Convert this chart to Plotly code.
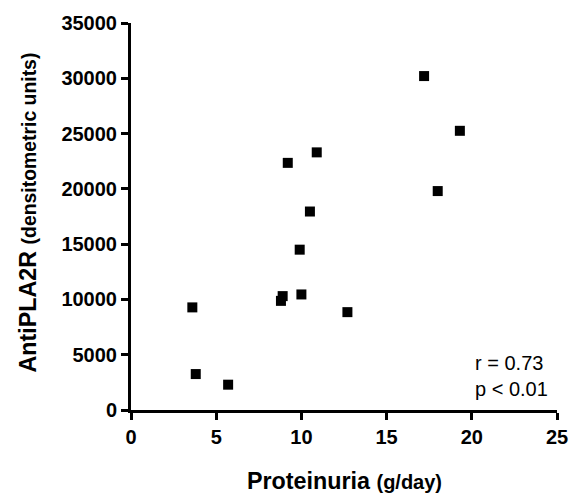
import plotly.graph_objects as go

proteinuria = [3.6, 3.8, 5.7, 8.8, 8.9, 10.0, 9.9, 10.5, 9.2, 10.9, 17.2, 19.3, 18.0, 12.7]
antipla2r = [9280, 3250, 2290, 9870, 10300, 10450, 14500, 17950, 22350, 23300, 30200, 25250, 19800, 8850]
x_ticks = [0, 5, 10, 15, 20, 25]
y_ticks = [0, 5000, 10000, 15000, 20000, 25000, 30000, 35000]

FONT = "Arial, Liberation Sans, Helvetica, sans-serif"

fig = go.Figure()
fig.add_trace(go.Scatter(
    x=proteinuria, y=antipla2r, mode="markers",
    marker=dict(symbol="square", size=10, color="black", line=dict(width=0)),
    showlegend=False, cliponaxis=False,
))

axis_common = dict(
    showline=True, linecolor="black", linewidth=3,
    ticks="outside", ticklen=7, tickwidth=3, tickcolor="black",
    showgrid=False, zeroline=False,
    tickfont=dict(family=FONT, size=20, color="black", weight="bold"),
)

fig.update_layout(
    width=580, height=495,
    margin=dict(l=131, r=17, t=21, b=85),
    paper_bgcolor="white", plot_bgcolor="white",
    xaxis=dict(range=[0, 25], tickvals=x_ticks, ticktext=[str(v) for v in x_ticks], **axis_common),
    yaxis=dict(range=[0, 35000], tickvals=y_ticks, ticktext=[str(v) for v in y_ticks], **axis_common),
    font=dict(family=FONT, color="black"),
)

fig.add_annotation(
    xref="paper", yref="paper", x=0.5, y=-0.183, xanchor="center", yanchor="middle",
    text="<b>Proteinuria</b> <b><span style='font-size:20px'>(g/day)</span></b>",
    showarrow=False, font=dict(family=FONT, size=23.3, color="black"),
)
fig.add_annotation(
    xref="paper", yref="paper", x=-0.241, y=0.511, xanchor="center", yanchor="middle",
    text="<b>AntiPLA2R</b> <b><span style='font-size:19.4px'>(densitometric units)</span></b>",
    textangle=-90, showarrow=False, font=dict(family=FONT, size=23.3, color="black"),
)
fig.add_annotation(
    xref="x", yref="y", x=20.07, y=3060, xanchor="left", yanchor="middle", align="left",
    text="r = 0.73<br>p < 0.01",
    showarrow=False, font=dict(family=FONT, size=20, color="black"),
)

fig.write_html("out.html", config={"displayModeBar": False},
               post_script="document.body.style.margin='0';document.body.style.padding='0';")
